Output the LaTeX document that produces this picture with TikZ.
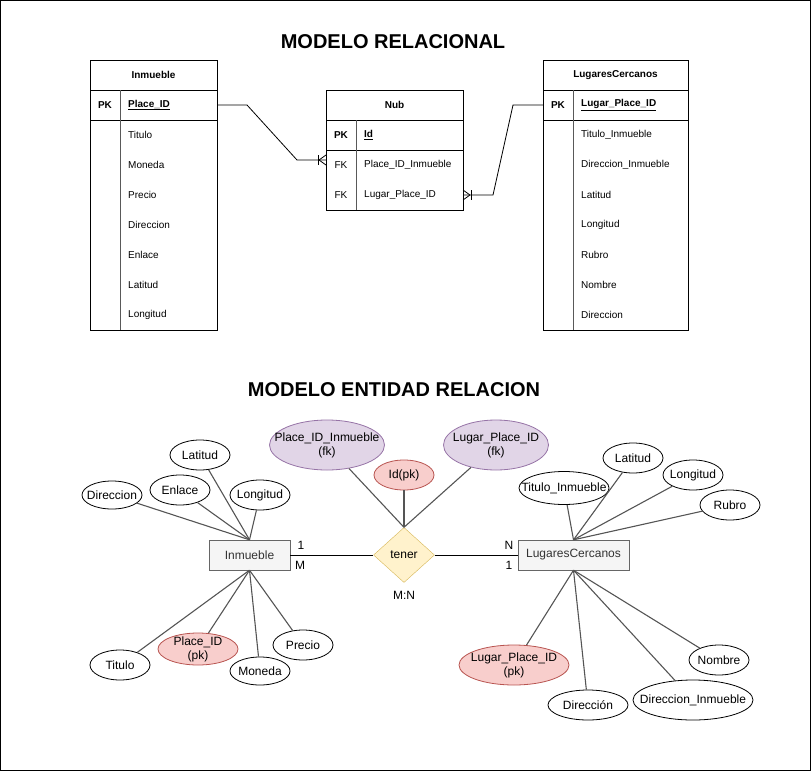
\documentclass[tikz,border=0pt]{standalone}
\usepackage{fontspec}
\setmainfont{Liberation Sans}
\usetikzlibrary{shapes.geometric}

\definecolor{pkfill}{HTML}{F8CECC}
\definecolor{pkdraw}{HTML}{B85450}
\definecolor{fkfill}{HTML}{E1D5E7}
\definecolor{fkdraw}{HTML}{9673A6}
\definecolor{relfill}{HTML}{FFF2CC}
\definecolor{reldraw}{HTML}{D6B656}
\definecolor{entfill}{HTML}{F5F5F5}
\definecolor{entdraw}{HTML}{666666}
\definecolor{enttext}{HTML}{333333}
\definecolor{attrgray}{HTML}{555555}

\tikzset{
  tabhead/.style={font=\fontsize{10}{12}\selectfont\bfseries, inner sep=0pt},
  tabkey/.style={font=\fontsize{10}{12}\selectfont, inner sep=0pt},
  tabfield/.style={font=\fontsize{10}{12}\selectfont, anchor=west, inner sep=0pt},
  tabpk/.style={tabfield, font=\fontsize{10}{12}\selectfont\bfseries},
  tabline/.style={draw=black, line width=1pt},
  coldiv/.style={draw=black!65, line width=1pt},
  title/.style={font=\fontsize{20}{24}\selectfont\bfseries, inner sep=0pt},
  erfont/.style={font=\fontsize{12}{14}\selectfont},
  entity/.style={rectangle, draw=entdraw, fill=entfill, text=enttext, erfont, minimum height=30pt, inner sep=0pt},
  relation/.style={diamond, draw=reldraw, fill=relfill, erfont, minimum width=61pt, minimum height=55pt, inner sep=0pt},
  attr/.style={ellipse, draw=black, fill=white, line width=0.8pt, inner sep=0pt},
  plainattr/.style={},
  pkattr/.style={fill=pkfill, draw=pkdraw},
  fkattr/.style={fill=fkfill, draw=fkdraw},
  attrtext/.style={erfont, align=center, inner sep=0pt},
  attrline/.style={draw=attrgray, line width=1.1pt},
  card/.style={erfont, inner sep=0pt},
}

\begin{document}
\begin{tikzpicture}[x=1pt,y=-1pt]
\useasboundingbox (0,0) rectangle (811,771);
\draw[line width=1pt] (0.5,0.5) rectangle (810.5,770.5);

%titles
\node[title] (title-rel) at (393,42) {MODELO RELACIONAL};
\node[title] (title-er) at (394,390) {MODELO ENTIDAD RELACION};

%table Inmueble
\draw[tabline] (90,60) rectangle (217,330);
\draw[tabline] (90,90) -- (217,90) (90,120) -- (217,120);
\draw[coldiv] (120,90) -- (120,330);
\node[tabhead] (inm-head) at (153.5,75) {Inmueble};
\node[tabhead] (inm-pk-key) at (105,105) {PK};
\node[tabpk] (inm-pk) at (128,105) {\underline{Place\_ID}};
\foreach \f [count=\i] in {Titulo,Moneda,Precio,Direccion,Enlace,Latitud,Longitud}
	\node[tabfield] (inm-f\i) at (128,105+30*\i) {\f};
\coordinate (inm-pk-e) at (217,105);

%table Nub
\draw[tabline] (326,90) rectangle (463,210);
\draw[tabline] (326,120) -- (463,120) (326,150) -- (463,150);
\draw[coldiv] (356,120) -- (356,210);
\node[tabhead] (nub-head) at (394.5,105) {Nub};
\node[tabhead] (nub-pk-key) at (341,135) {PK};
\node[tabpk] (nub-pk) at (364,135) {\underline{Id}};
\foreach \f [count=\i] in {Place\_ID\_Inmueble,Lugar\_Place\_ID}{
	\node[tabkey] (nub-fk\i-key) at (341,135+30*\i) {FK};
	\node[tabfield] (nub-fk\i) at (364,135+30*\i) {\f};
}
\coordinate (nub-fk1-w) at (326,160);
\coordinate (nub-fk2-e) at (463,195);

%table LugaresCercanos
\draw[tabline] (543,60) rectangle (688,330);
\draw[tabline] (543,90) -- (688,90) (543,120) -- (688,120);
\draw[coldiv] (573,90) -- (573,330);
\node[tabhead] (lc-head) at (615.5,75) {LugaresCercanos};
\node[tabhead] (lc-pk-key) at (558,105) {PK};
\node[tabpk] (lc-pk) at (581,105) {\underline{Lugar\_Place\_ID}};
\foreach \f [count=\i] in {Titulo\_Inmueble,Direccion\_Inmueble,Latitud,Longitud,Rubro,Nombre,Direccion}
	\node[tabfield] (lc-f\i) at (581,105+30*\i) {\f};
\coordinate (lc-pk-w) at (543,105);

%relations between the tables
\draw[line width=0.8pt] (inm-pk-e) -- ++(30,0) -- ([xshift=-29pt]nub-fk1-w) -- (nub-fk1-w);
\draw[line width=0.8pt] ([xshift=-8pt]nub-fk1-w) ++(0,-5) -- ++(0,10);
\draw[line width=0.8pt] ([xshift=-7pt]nub-fk1-w) -- ++(7,-5) ([xshift=-7pt]nub-fk1-w) -- ++(7,5);
\draw[line width=0.8pt] (nub-fk2-e) -- ++(30,0) -- ([xshift=-30pt]lc-pk-w) -- (lc-pk-w);
\draw[line width=0.8pt] ([xshift=8pt]nub-fk2-e) ++(0,-5) -- ++(0,10);
\draw[line width=0.8pt] ([xshift=7pt]nub-fk2-e) -- ++(-7,-5) ([xshift=7pt]nub-fk2-e) -- ++(-7,5);

%entities and relationship
\node[entity, minimum width=81pt] (inm) at (249.5,555) {Inmueble};
\node[relation] (ten) at (404,555) {tener};
\node[entity, minimum width=111pt] (lc) at (573.5,555) {LugaresCercanos};
\draw[line width=0.8pt] (inm) -- (ten);
\draw[line width=0.8pt] (ten) -- (lc);
\node[card] (card-inm-1) at (301,545) {1};
\node[card] (card-inm-m) at (300,565) {M};
\node[card] (card-lc-n) at (509,545) {N};
\node[card] (card-lc-1) at (509,565) {1};
\node[card] (card-mn) at (404,595) {M:N};

%attributes: name/x/y/width/height/style/target/text
\foreach \n/\x/\y/\w/\h/\s/\tg/\t in {
	inm-dir/112/495/60/28/plainattr/inm.north/Direccion,
	inm-enl/180/490/60/30/plainattr/inm.north/Enlace,
	inm-lat/200/455/60/30/plainattr/inm.north/Latitud,
	inm-lon/260/495/60/30/plainattr/inm.north/Longitud,
	inm-tit/120/665/60/30/plainattr/inm.south/Titulo,
	inm-pid/198/649/80/32/pkattr/inm.south/{Place\_ID\\(pk)},
	inm-mon/260/671/60/28/plainattr/inm.south/Moneda,
	inm-pre/303/645/60/30/plainattr/inm.south/Precio,
	ten-pid/327/445/115/50/fkattr/ten.north/{Place\_ID\_Inmueble\\(fk)},
	ten-id/404/475/60/30/pkattr/ten.north/Id(pk),
	ten-lid/496/445/105/50/fkattr/ten.north/{Lugar\_Place\_ID\\(fk)},
	lc-tit/564/488/90/33/plainattr/lc.north/Titulo\_Inmueble,
	lc-lat/633/458/60/30/plainattr/lc.north/Latitud,
	lc-lon/693/475/60/30/plainattr/lc.north/Longitud,
	lc-rub/730/505/60/30/plainattr/lc.north/Rubro,
	lc-lid/514/665/110/40/pkattr/lc.south/{Lugar\_Place\_ID\\(pk)},
	lc-dir/588/705/80/30/plainattr/lc.south/Dirección,
	lc-dim/693/700/120/40/plainattr/lc.south/Direccion\_Inmueble,
	lc-nom/719/660/60/30/plainattr/lc.south/Nombre}{
	\node[attr, \s, minimum width=\w pt, minimum height=\h pt] (\n) at (\x,\y) {};
	\node[attrtext] (\n-txt) at (\n) {\t};
	\draw[attrline] (\n) -- (\tg);
}

\end{tikzpicture}
\end{document}
